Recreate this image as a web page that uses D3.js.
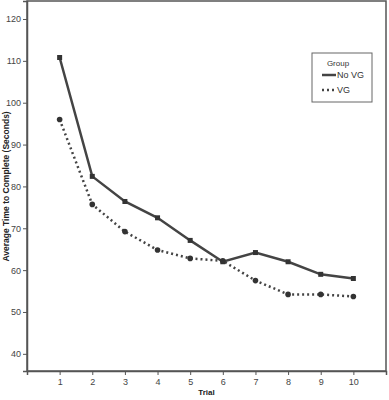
<!DOCTYPE html>
<html>
<head>
<meta charset="utf-8">
<script src="https://cdn.jsdelivr.net/npm/d3@7"></script>
<style>
body { margin: 0; background: #fff; }
text { font-family: Arial, "Liberation Sans", sans-serif; }
</style>
</head>
<body>
<script>
var trials = [1, 2, 3, 4, 5, 6, 7, 8, 9, 10];
var noVG = [110.8, 82.4, 76.4, 72.5, 67.1, 62.0, 64.2, 62.0, 59.0, 58.0];
var vg = [96.0, 75.7, 69.2, 64.8, 62.8, 62.2, 57.5, 54.2, 54.2, 53.7];
var yTicks = [40, 50, 60, 70, 80, 90, 100, 110, 120];
var groups = ["No VG", "VG"];

var width = 389, height = 400;
var svg = d3.select("body").append("svg").attr("width", width).attr("height", height);

var x = d3.scaleLinear().domain([0, 11]).range([27, 386]);
var y = d3.scaleLinear().domain([35.9, 124.3]).range([371, 1]);

var frame = "#555";

// frame box
svg.append("rect")
    .attr("x", x(0)).attr("y", y(124.3))
    .attr("width", x(11) - x(0)).attr("height", y(35.9) - y(124.3))
    .attr("fill", "none").attr("stroke", frame).attr("stroke-width", 1.5);

var xAxis = svg.append("g")
    .attr("transform", "translate(0," + y(35.9) + ")")
    .call(d3.axisBottom(x).tickValues(trials).tickSize(4).tickPadding(4));
var yAxis = svg.append("g")
    .attr("transform", "translate(" + x(0) + ",0)")
    .call(d3.axisLeft(y).tickValues(yTicks).tickSize(4).tickPadding(2));

[xAxis, yAxis].forEach(function (g) {
    g.select(".domain").attr("stroke", frame).attr("stroke-width", 1.5);
    g.selectAll(".tick line").attr("stroke", frame);
    g.selectAll(".tick text").attr("fill", "#444").style("font-size", "9px");
});

// axis titles
svg.append("text")
    .attr("x", x(5.5)).attr("y", 395)
    .attr("text-anchor", "middle")
    .style("font-size", "8px").style("font-weight", "bold").attr("fill", "#222")
    .text("Trial");
svg.append("text")
    .attr("transform", "translate(9," + y(80) + ") rotate(-90)")
    .attr("text-anchor", "middle")
    .style("font-size", "8.5px").style("font-weight", "bold").attr("fill", "#222")
    .text("Average Time to Complete (Seconds)");

var line = d3.line()
    .x(function (d, i) { return x(trials[i]); })
    .y(function (d) { return y(d); });

var lineColor = "#444";

svg.append("path")
    .datum(noVG)
    .attr("d", line)
    .attr("fill", "none").attr("stroke", lineColor).attr("stroke-width", 2.5);

svg.append("path")
    .datum(vg)
    .attr("d", line)
    .attr("fill", "none").attr("stroke", lineColor).attr("stroke-width", 2.5)
    .attr("stroke-dasharray", "2,3");

svg.append("g").selectAll("rect")
    .data(noVG)
    .enter().append("rect")
    .attr("x", function (d, i) { return x(trials[i]) - 2.5; })
    .attr("y", function (d) { return y(d) - 2.5; })
    .attr("width", 5).attr("height", 5)
    .attr("fill", "#333");

svg.append("g").selectAll("circle")
    .data(vg)
    .enter().append("circle")
    .attr("cx", function (d, i) { return x(trials[i]); })
    .attr("cy", function (d) { return y(d); })
    .attr("r", 2.8)
    .attr("fill", "#333");

// legend
var legend = svg.append("g");
legend.append("rect")
    .attr("x", 312).attr("y", 53).attr("width", 60).attr("height", 49)
    .attr("fill", "#fff").attr("stroke", "#666").attr("stroke-width", 1);
legend.append("text")
    .attr("x", 338).attr("y", 66)
    .attr("text-anchor", "middle")
    .style("font-size", "8px").attr("fill", "#333")
    .text("Group");

var items = legend.selectAll("g.item")
    .data(groups)
    .enter().append("g")
    .attr("class", "item")
    .attr("transform", function (d, i) { return "translate(0," + (75 + i * 15) + ")"; });
items.append("line")
    .attr("x1", 322).attr("x2", 336).attr("y1", 0).attr("y2", 0)
    .attr("stroke", lineColor).attr("stroke-width", 2.5)
    .attr("stroke-dasharray", function (d, i) { return i ? "2,3" : null; });
items.append("text")
    .attr("x", 337).attr("y", 3)
    .style("font-size", "9px").attr("fill", "#333")
    .text(function (d) { return d; });
</script>
</body>
</html>
